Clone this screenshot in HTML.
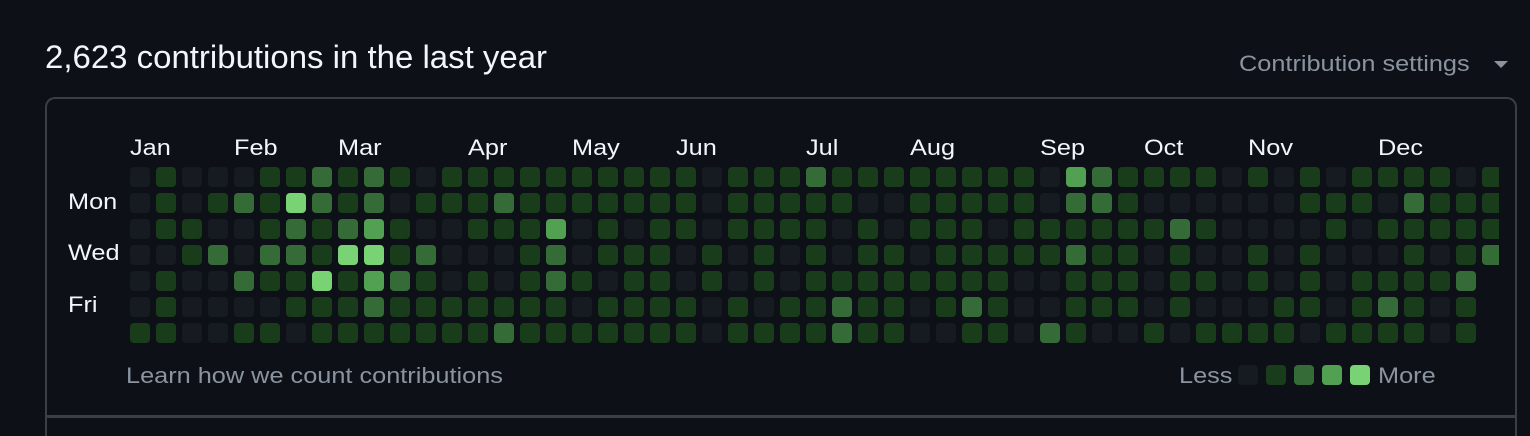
<!DOCTYPE html>
<html style="overflow:hidden;height:436px"><head><meta charset="utf-8"><style>
html,body{margin:0;width:1530px;height:436px;background:#0d1117;overflow:hidden}
body{font-family:"Liberation Sans",sans-serif}
#w{position:relative;width:1530px;height:436px;overflow:hidden}
.t{position:absolute;white-space:nowrap;transform-origin:0 50%}
.s{font-size:22px;transform:scaleX(1.15)}
.c{position:absolute;width:20px;height:20px;border-radius:4px}
.l0{background:#161b22}.l1{background:#193c1a}.l2{background:#346b36}.l3{background:#52a052}.l4{background:#79d273}
</style></head><body><div id="w">
<div class="t" style="left:45px;top:39px;font-size:32px;transform:scaleX(1.03);color:#f0f6fc">2,623 contributions in the last year</div>
<div class="t s" style="left:1239px;top:51px;color:#8b949e">Contribution settings</div>
<div style="position:absolute;left:1494px;top:61px;width:0;height:0;border-left:7px solid transparent;border-right:7px solid transparent;border-top:7px solid #8b949e"></div>
<div style="position:absolute;left:45px;top:97px;width:1472px;height:339px;border:2px solid #3a3f46;border-bottom:none;border-radius:10px 10px 0 0;box-sizing:border-box"></div>
<div style="position:absolute;left:46px;top:415px;width:1470px;height:3px;background:#3a3f46"></div>
<div id="g" style="position:absolute;left:0;top:0;width:1499px;height:436px;overflow:hidden"></div>
<div class="t s" style="left:68px;top:189px;color:#f0f6fc">Mon</div>
<div class="t s" style="left:68px;top:240px;color:#f0f6fc">Wed</div>
<div class="t s" style="left:68px;top:292px;color:#f0f6fc">Fri</div>
<div class="t s" style="left:126px;top:363px;color:#8b949e">Learn how we count contributions</div>
<div class="t s" style="left:1179px;top:363px;color:#8b949e">Less</div>
<div class="c l0" style="left:1238px;top:365px"></div>
<div class="c l1" style="left:1266px;top:365px"></div>
<div class="c l2" style="left:1294px;top:365px"></div>
<div class="c l3" style="left:1322px;top:365px"></div>
<div class="c l4" style="left:1350px;top:365px"></div>
<div class="t s" style="left:1378px;top:363px;color:#8b949e">More</div>
</div>
<script>
var rows=[
"0100011212101"+"1111111110111"+"2111111110321"+"11101010111101",
"0101214212011"+"1211111110111"+"1100111110221"+"00000011102111",
"0110012123100"+"1113010110111"+"1010111011111"+"12100001011111",
"0012022144120"+"0012011101010"+"1011011111211"+"01001010001012",
"0100211413210"+"1012101101010"+"1111111100111"+"0110101011112-",
"0100001112111"+"1111011110101"+"1211012100111"+"0100011012101-",
"1100110111111"+"1211111110111"+"1211001102100"+"1011110111101-"];
var g=document.getElementById('g'),h='';
for(var r=0;r<7;r++)for(var i=0;i<53;i++){var v=rows[r][i];if(v===undefined||v=='-')continue;
h+='<div class="c l'+v+'" style="left:'+(130+26*i)+'px;top:'+(167+26*r)+'px"></div>';}
var m=[["Jan",130],["Feb",234],["Mar",338],["Apr",468],["May",572],["Jun",676],["Jul",806],["Aug",910],["Sep",1040],["Oct",1144],["Nov",1248],["Dec",1378]];
m.forEach(function(x){h+='<div class="t s" style="left:'+x[1]+'px;top:135px;color:#f0f6fc">'+x[0]+'</div>';});
g.innerHTML=h;
</script>
</body></html>
